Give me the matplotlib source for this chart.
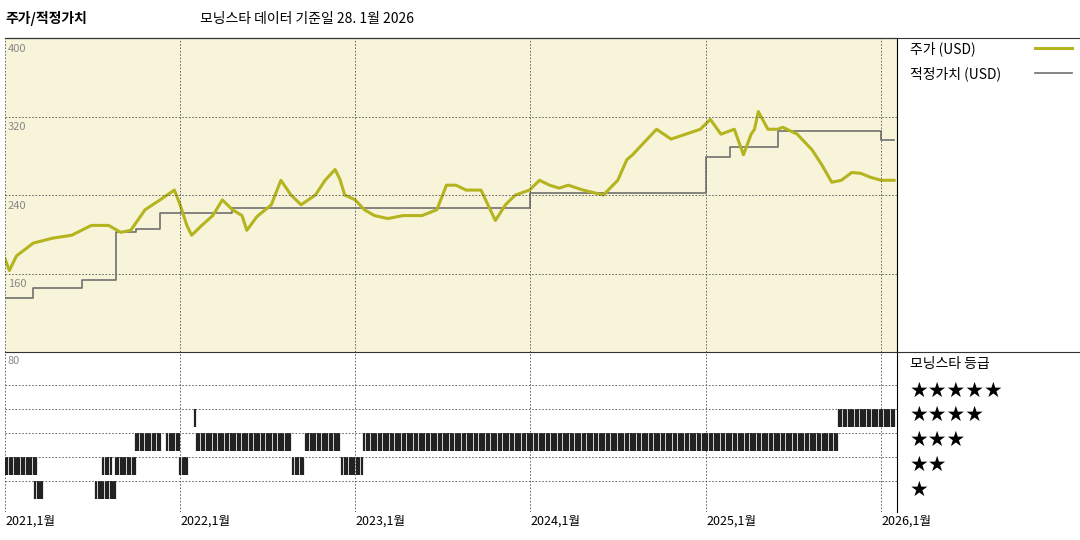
import numpy as np
import matplotlib.pyplot as plt
import pandas as pd
from matplotlib.lines import Line2D

plt.rcParams['font.family'] = ['Noto Sans CJK KR', 'DejaVu Sans']

# 주가 (USD)
price_dates = ['2021-01-01', '2021-01-10', '2021-01-25', '2021-03-01', '2021-04-10', '2021-05-20',
               '2021-06-30', '2021-08-05', '2021-08-30', '2021-09-20', '2021-10-20', '2021-11-20',
               '2021-12-20', '2022-01-01', '2022-01-15', '2022-01-25', '2022-02-15', '2022-03-10',
               '2022-03-30', '2022-04-20', '2022-05-10', '2022-05-20', '2022-06-10', '2022-07-10',
               '2022-07-30', '2022-08-20', '2022-09-10', '2022-10-10', '2022-10-30', '2022-11-20',
               '2022-11-30', '2022-12-10', '2023-01-01', '2023-01-20', '2023-02-10', '2023-03-10',
               '2023-04-10', '2023-05-20', '2023-06-20', '2023-07-10', '2023-07-30', '2023-08-20',
               '2023-09-20', '2023-10-20', '2023-11-10', '2023-11-20', '2023-12-01', '2023-12-30',
               '2024-01-20', '2024-02-10', '2024-03-01', '2024-03-20', '2024-04-20', '2024-06-01',
               '2024-07-01', '2024-07-20', '2024-08-01', '2024-08-20', '2024-09-20', '2024-10-20',
               '2024-11-20', '2024-12-20', '2025-01-10', '2025-02-01', '2025-03-01', '2025-03-20',
               '2025-04-05', '2025-04-12', '2025-04-20', '2025-05-10', '2025-05-30', '2025-06-10',
               '2025-07-10', '2025-08-10', '2025-08-30', '2025-09-20', '2025-10-10', '2025-11-01',
               '2025-11-20', '2025-12-10', '2026-01-01', '2026-01-28']
price = [175, 163, 178, 191, 196, 199, 209, 209, 202, 204, 225, 235, 245, 230, 209, 199, 209, 219,
         235, 225, 219, 204, 218, 230, 255, 240, 230, 240, 255, 266, 256, 240, 235, 225, 219, 216,
         219, 219, 225, 250, 250, 245, 245, 214, 230, 235, 240, 245, 255, 250, 247, 250, 245, 240,
         255, 276, 281, 291, 307, 297, 302, 307, 317, 302, 307, 281, 302, 307, 325, 307, 307, 309,
         302, 286, 271, 253, 255, 263, 262, 258, 255, 255]

# 적정가치 (USD)
fv_dates = ['2021-01-01', '2021-03-01', '2021-06-10', '2021-08-20', '2021-10-01', '2021-11-20',
            '2022-04-20', '2022-08-01', '2023-08-20', '2024-01-01', '2024-07-20', '2025-01-01',
            '2025-02-20', '2025-06-01', '2025-12-31', '2026-01-28']
fair_value = [135, 145, 153, 202, 205, 222, 227, 227, 227, 242, 242, 279, 289, 305, 296, 296]

# 모닝스타 등급 (start, end, stars)
rating_periods = [('2021-01-01', '2021-03-10', 2), ('2021-03-05', '2021-03-20', 1),
                  ('2021-07-10', '2021-08-20', 1), ('2021-07-25', '2021-08-10', 2),
                  ('2021-08-20', '2021-10-01', 2), ('2021-10-01', '2021-11-20', 3),
                  ('2021-12-05', '2022-01-01', 3), ('2022-01-01', '2022-01-20', 2),
                  ('2022-02-01', '2022-02-05', 4), ('2022-02-05', '2022-08-20', 3),
                  ('2022-08-25', '2022-09-15', 2), ('2022-09-20', '2022-12-01', 3),
                  ('2022-12-05', '2023-01-15', 2), ('2023-01-20', '2025-10-05', 3),
                  ('2025-10-05', '2026-01-28', 4)]

date_ticks = ['2021-01-01', '2022-01-01', '2023-01-01', '2024-01-01', '2025-01-01', '2026-01-01']
tick_labels = ['2021,1월', '2022,1월', '2023,1월', '2024,1월', '2025,1월', '2026,1월']

price_color = '#b4b41e'
fv_color = '#707070'
xmin, xmax = pd.Timestamp('2021-01-01'), pd.Timestamp('2026-02-03')

fig = plt.figure(figsize=(10.8, 5.4), dpi=100)
ax = fig.add_axes([5 / 1080, 188 / 540, 892 / 1080, 314 / 540])
ax2 = fig.add_axes([5 / 1080, 28 / 540, 892 / 1080, 160 / 540])

ax.set_facecolor('#f8f4da')
ax.step(pd.to_datetime(fv_dates), fair_value, where='post', color=fv_color, lw=1.2)
ax.plot(pd.to_datetime(price_dates), price, color=price_color, lw=2.2)
ax.set_xlim(xmin, xmax)
ax.set_ylim(80, 400)
for v in [160, 240, 320, 400]:
    ax.axhline(v, color='#555555', lw=0.6, ls=(0, (2, 2)))
    ax.text(0.003, v - 6, str(v), transform=ax.get_yaxis_transform(), fontsize=8,
            color='#888888', va='top')
for d in date_ticks:
    ax.axvline(pd.Timestamp(d), color='#555555', lw=0.6, ls=(0, (2, 2)))
    ax2.axvline(pd.Timestamp(d), color='#555555', lw=0.6, ls=(0, (2, 2)))
ax.set_xticks([])
ax.set_yticks([])

# rating barcode
for s, e, r in rating_periods:
    ds = pd.date_range(s, e, freq='5D')
    ax2.vlines(ds, r - 0.36, r + 0.36, color='#222222', lw=1.6)
for r in range(1, 6):
    ax2.axhline(r + 0.36, color='#555555', lw=0.6, ls=(0, (2, 2)))
ax2.set_xlim(xmin, xmax)
ax2.set_ylim(0.083, 6.75)
ax2.set_yticks([])
ax2.set_xticks([pd.Timestamp(d) for d in date_ticks])
ax2.set_xticklabels(tick_labels, fontsize=9, ha='left')
ax2.tick_params(axis='x', length=0, pad=2)
ax2.text(0.003, 6.6, '80', transform=ax2.get_yaxis_transform(), fontsize=8, color='#888888',
         va='top')
for sp in ['left', 'bottom', 'top']:
    ax2.spines[sp].set_visible(False)
for sp in ['left', 'bottom']:
    ax.spines[sp].set_visible(False)

# full-width frame lines
fig.add_artist(Line2D([5 / 1080, 1], [502 / 540, 502 / 540], color='#333333', lw=0.8))
fig.add_artist(Line2D([5 / 1080, 1], [188 / 540, 188 / 540], color='#333333', lw=0.8))

# titles
fig.text(5 / 1080, 1 - 19 / 540, '주가/적정가치', fontsize=10, fontweight='bold', va='center')
fig.text(200 / 1080, 1 - 19 / 540, '모닝스타 데이터 기준일 28. 1월 2026', fontsize=10, va='center')

# legend
fig.text(910 / 1080, 1 - 49 / 540, '주가 (USD)', fontsize=10, va='center')
fig.add_artist(Line2D([1035 / 1080, 1072 / 1080], [1 - 48 / 540] * 2, color=price_color, lw=2.2))
fig.text(910 / 1080, 1 - 74 / 540, '적정가치 (USD)', fontsize=10, va='center')
fig.add_artist(Line2D([1035 / 1080, 1072 / 1080], [1 - 73 / 540] * 2, color=fv_color, lw=1.2))
fig.text(910 / 1080, 1 - 364 / 540, '모닝스타 등급', fontsize=10, va='center')
for r, y in zip(range(5, 0, -1), [391, 415, 440, 465, 490]):
    fig.text(910 / 1080, 1 - y / 540, '★' * r, fontsize=15, va='center',
             family=['DejaVu Sans'])

fig.savefig('out.png', dpi=100)
